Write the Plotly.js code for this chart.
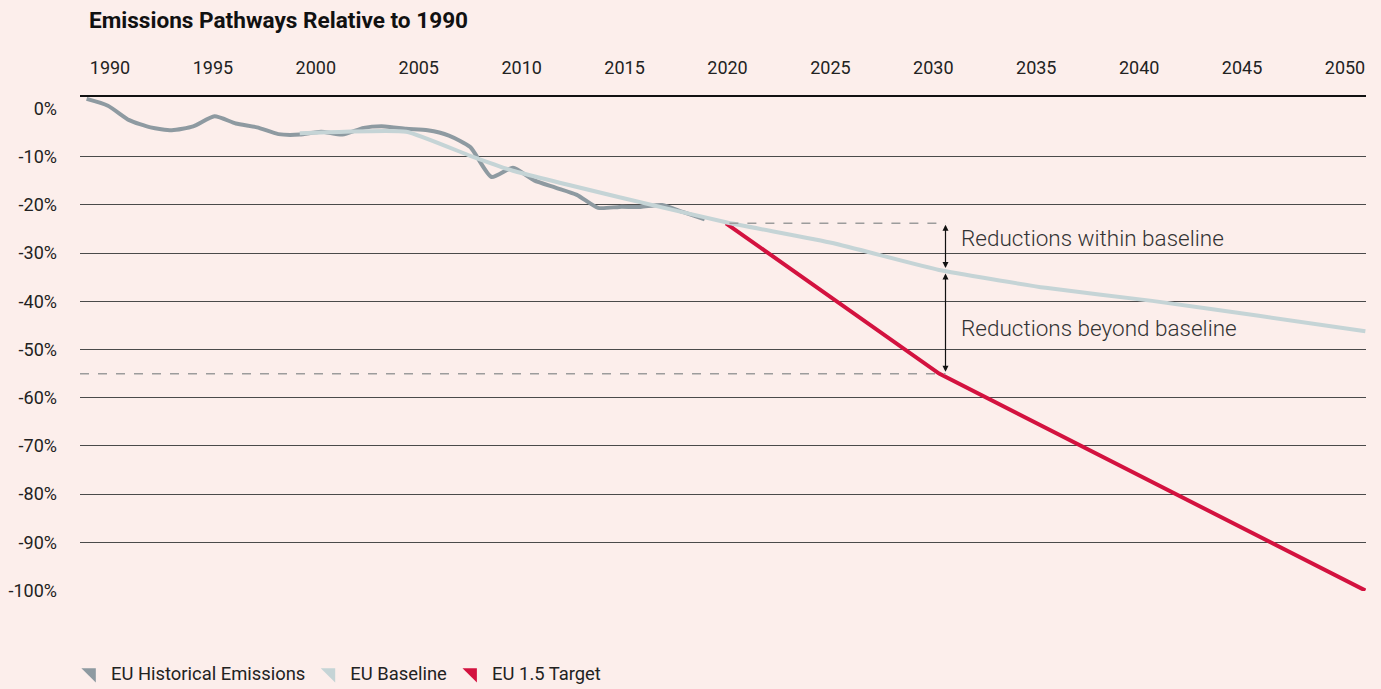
<!DOCTYPE html>
<html>
<head>
<meta charset="utf-8">
<script src="https://cdn.plot.ly/plotly-3.0.1.min.js"></script>
<style>html,body{margin:0;padding:0;background:#FCEEEB;}#chart{width:1381px;height:689px;}</style>
</head>
<body>
<div id="chart"></div>
<script>
// ---- Data (percent change relative to 1990) ----
const histYears = [1990,1991,1992,1993,1994,1995,1996,1997,1998,1999,2000,2001,2002,2003,2004,2005,2006,2007,2008,2009,2010,2011,2012,2013,2014,2015,2016,2017,2018,2019];
const histValues = [2.0,0.6,-2.4,-3.9,-4.5,-3.7,-1.6,-3.1,-3.9,-5.3,-5.4,-4.8,-5.4,-4.0,-3.7,-4.2,-4.5,-5.6,-8.0,-14.2,-12.3,-14.9,-16.4,-17.9,-20.6,-20.4,-20.4,-20.0,-21.5,-23.0];

const baseYears = [2000,2005,2008,2010,2015,2020,2025,2030,2035,2040,2045,2050];
const baseValues = [-5.1,-4.8,-9.8,-12.9,-18.4,-23.6,-27.9,-33.5,-37.2,-39.9,-43.0,-46.2];

const targetYears = [2020,2030,2050];
const targetValues = [-23.8,-55.0,-100.0];

const xTickYears = [1990,1995,2000,2005,2010,2015,2020,2025,2030,2035,2040,2045,2050];
const yTickValues = [0,-10,-20,-30,-40,-50,-60,-70,-80,-90,-100];
const yTickLabels = ['0%','-10%','-20%','-30%','-40%','-50%','-60%','-70%','-80%','-90%','-100%'];

const seriesNames = ['EU Historical Emissions','EU Baseline','EU 1.5 Target'];
const seriesColors = ['#8E9AA1','#C5D4D6','#D3123F'];
const annotationLabels = ['Reductions within baseline','Reductions beyond baseline'];

// ---- Style ----
const BG = '#FCEEEB';
const FONT = 'Roboto, "Noto Sans", Arial, sans-serif';

const traces = [
  {x: histYears, y: histValues, type:'scatter', mode:'lines', name: seriesNames[0],
   line:{color: seriesColors[0], width:4, shape:'spline', smoothing:0.6}, showlegend:false, hoverinfo:'x+y'},
  {x: targetYears, y: targetValues, type:'scatter', mode:'lines', name: seriesNames[2],
   line:{color: seriesColors[2], width:4}, showlegend:false, hoverinfo:'x+y'},
  {x: baseYears, y: baseValues, type:'scatter', mode:'lines', name: seriesNames[1],
   line:{color: seriesColors[1], width:4, shape:'spline', smoothing:0.4}, showlegend:false, hoverinfo:'x+y'},
  // axis-label carrier for the top year axis
  {x: [xTickYears[0]], y: [null], xaxis:'x2', type:'scatter', mode:'lines', showlegend:false, hoverinfo:'skip'}
];
// legend entries (triangle swatches)
for (let i = 0; i < seriesNames.length; i++) {
  traces.push({x:[null], y:[null], type:'scatter', mode:'markers', name: seriesNames[i],
    marker:{symbol:'triangle-ne', size:17, color: seriesColors[i]}, hoverinfo:'skip'});
}

const i2030b = baseYears.indexOf(2030);
const i2020t = targetYears.indexOf(2020);
const i2030t = targetYears.indexOf(2030);
const arrowX = 2030.3;
const levelTop = targetValues[i2020t];
const levelBase = baseValues[i2030b];
const levelTarget = targetValues[i2030t];

const layout = {
  width:1381, height:689,
  margin:{l:80, r:15, t:97, b:98, autoexpand:false},
  paper_bgcolor: BG, plot_bgcolor: BG,
  font:{family: FONT, color:'#222'},
  title:{text:'Emissions Pathways Relative to 1990', font:{family:FONT, size:22.6, weight:700, color:'#111'},
    xref:'container', yref:'container', x:89/1381, xanchor:'left', y:1-20/689, yanchor:'middle'},
  showlegend:true,
  legend:{orientation:'h', x:-0.007, xanchor:'left', y:-0.1285, yanchor:'top', font:{family:FONT, size:18.4, color:'#222'},
    itemwidth:30, bgcolor:'rgba(0,0,0,0)', traceorder:'normal'},
  xaxis:{range:[1989.69, 2050.03], showgrid:false, zeroline:false, showline:false, showticklabels:false, ticks:'', fixedrange:true},
  xaxis2:{overlaying:'x', anchor:'y', side:'top', range:[1988.5425, 2051.02], tickmode:'array', tickvals: xTickYears,
    ticktext: xTickYears.map(String), showgrid:false, zeroline:false, showline:true, linecolor:'#111', linewidth:2,
    ticks:'', tickfont:{family:FONT, size:18, color:'#222'}, ticklabelstandoff:14, fixedrange:true},
  yaxis:{range:[-100.1, 2.4], tickmode:'array', tickvals: yTickValues, ticktext: yTickLabels,
    showgrid:true, gridcolor:'#4a4a4a', gridwidth:1, zeroline:true, zerolinecolor: BG, zerolinewidth:1,
    showline:false, ticks:'', tickfont:{family:FONT, size:18, color:'#222'}, ticklabelstandoff:22, fixedrange:true},
  shapes:[
    {type:'line', xref:'x', yref:'y', x0:2020.16, x1:arrowX, y0:levelTop, y1:levelTop,
      line:{color:'#9c9c9c', width:1.5, dash:'dash'}},
    {type:'line', xref:'x', yref:'y', x0:1989.69, x1:arrowX, y0:levelTarget, y1:levelTarget,
      line:{color:'#9c9c9c', width:1.5, dash:'dash'}}
  ],
  annotations:[
    {x:arrowX, y:levelBase, ax:arrowX, ay:levelTop, xref:'x', yref:'y', axref:'x', ayref:'y', text:'',
      showarrow:true, arrowhead:2, startarrowhead:2, arrowside:'end+start', arrowsize:1, arrowwidth:1.2, arrowcolor:'#111',
      standoff:2, startstandoff:0},
    {x:arrowX, y:levelTarget, ax:arrowX, ay:levelBase, xref:'x', yref:'y', axref:'x', ayref:'y', text:'',
      showarrow:true, arrowhead:2, startarrowhead:2, arrowside:'end+start', arrowsize:1, arrowwidth:1.2, arrowcolor:'#111',
      standoff:2, startstandoff:2},
    {x:2030.95, y:-26.8, xref:'x', yref:'y', xanchor:'left', yanchor:'middle', showarrow:false,
      text: annotationLabels[0], font:{family:FONT, size:22.5, weight:300, color:'#333'}},
    {x:2030.95, y:-45.5, xref:'x', yref:'y', xanchor:'left', yanchor:'middle', showarrow:false,
      text: annotationLabels[1], font:{family:FONT, size:22.5, weight:300, color:'#333'}}
  ]
};

Plotly.newPlot('chart', traces, layout, {displayModeBar:false, staticPlot:true});
</script>
</body>
</html>
